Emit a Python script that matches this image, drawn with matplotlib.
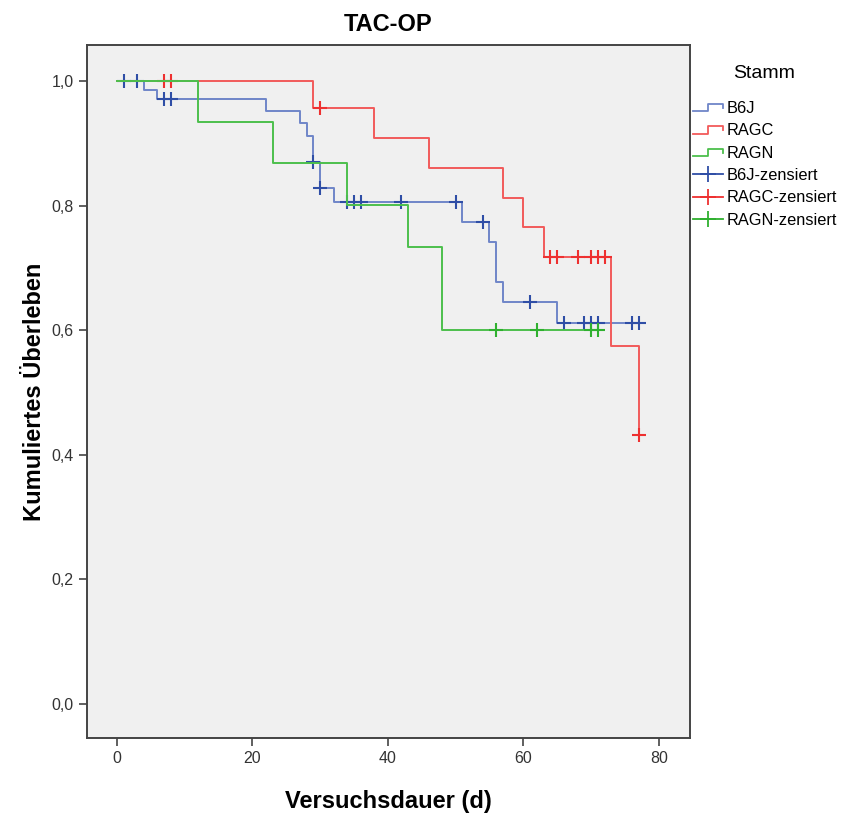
import numpy as np
import matplotlib
matplotlib.use("Agg")
import matplotlib.pyplot as plt
from matplotlib.lines import Line2D
from matplotlib.legend_handler import HandlerBase

plt.rcParams['font.family'] = ['Liberation Sans', 'DejaVu Sans']

# Kaplan-Meier steps (time in days, survival)
b6j_t = [0, 4, 6, 22, 27, 28, 29, 30, 32, 51, 55, 56, 57, 65, 77]
b6j_s = [1.0, 0.986, 0.972, 0.952, 0.932, 0.911, 0.870, 0.829, 0.805, 0.774, 0.742, 0.678, 0.646, 0.612, 0.612]
b6j_cens = [1, 3, 7, 8, 29, 30, 34, 35, 36, 42, 50, 54, 61, 66, 69, 70, 71, 76, 77]

ragc_t = [0, 29, 38, 46, 57, 60, 63, 73, 77]
ragc_s = [1.0, 0.956, 0.908, 0.861, 0.813, 0.766, 0.718, 0.574, 0.431]
ragc_cens = [7, 8, 30, 64, 65, 68, 70, 71, 72, 77]

ragn_t = [0, 12, 23, 34, 43, 48, 71]
ragn_s = [1.0, 0.934, 0.868, 0.801, 0.734, 0.600, 0.600]
ragn_cens = [56, 62, 70, 71]

groups = ['B6J', 'RAGC', 'RAGN']
line_cols = ['#6f86c8', '#f25a5a', '#4cbf4c']
mark_cols = ['#2f4ea6', '#ee3030', '#2fb02f']
yticks = [0.0, 0.2, 0.4, 0.6, 0.8, 1.0]
xticks = [0, 20, 40, 60, 80]


def level_at(t, s, c):
    i = np.searchsorted(t, c, side='right') - 1
    return s[i]


class StepHandler(HandlerBase):
    # small step-shaped key like the SPSS legend
    def create_artists(self, legend, orig, xd, yd, w, h, fs, trans):
        x0 = -xd
        x = [x0, x0 + w * 0.5, x0 + w * 0.5, x0 + w, x0 + w]
        y = [h * 0.15 - yd, h * 0.15 - yd, h * 0.8 - yd, h * 0.8 - yd, h * 0.45 - yd]
        ln = Line2D(x, y, color=orig.get_color(), lw=1.3, transform=trans)
        return [ln]


fig = plt.figure(figsize=(8.45, 8.16), dpi=100)
ax = fig.add_axes([0.103, 0.0956, 0.7136, 0.8493])
ax.set_facecolor('#f0f0f0')

data = [(b6j_t, b6j_s, b6j_cens), (ragc_t, ragc_s, ragc_cens), (ragn_t, ragn_s, ragn_cens)]
line_handles = []
mark_handles = []
for (t, s, c), name, lc, mc in zip(data, groups, line_cols, mark_cols):
    h, = ax.step(t, s, where='post', color=lc, lw=1.4, label=name)
    line_handles.append(h)
    cy = [level_at(np.array(t), s, ci) for ci in c]
    ax.plot(c, cy, ls='none', marker='+', ms=10, mew=1.5, color=mc)
    mark_handles.append(Line2D([], [], color=mc, lw=1.3, marker='+', ms=12, mew=1.3,
                               label=name + '-zensiert'))

ax.set_xlim(-4.4, 84.6)
ax.set_ylim(-0.055, 1.058)
ax.set_xticks(xticks)
ax.set_yticks(yticks)
ax.set_yticklabels([('%.1f' % v).replace('.', ',') for v in yticks])
ax.tick_params(direction='out', length=6, width=1.2, color='#444444',
               labelsize=11.5, labelcolor='#333333')
for sp in ax.spines.values():
    sp.set_color('#444444')
    sp.set_linewidth(1.4)

ax.set_title('TAC-OP', fontsize=17, fontweight='bold', pad=10)
ax.set_xlabel('Versuchsdauer (d)', fontsize=17, fontweight='bold', labelpad=17)
ax.set_ylabel('Kumuliertes Überleben', fontsize=17, fontweight='bold', labelpad=4)

hm = {h: StepHandler() for h in line_handles}
leg = fig.legend(line_handles + mark_handles,
                 [h.get_label() for h in line_handles + mark_handles],
                 loc='upper left', bbox_to_anchor=(0.806, 0.935),
                 frameon=False, fontsize=11.8, title='Stamm', title_fontsize=14,
                 handlelength=1.85, handletextpad=0.2, labelspacing=0.45,
                 borderaxespad=0.3, handler_map=hm)
leg._legend_box.align = 'center'
leg._legend_box.sep = 14

fig.savefig('out.png', dpi=100, facecolor='white')
